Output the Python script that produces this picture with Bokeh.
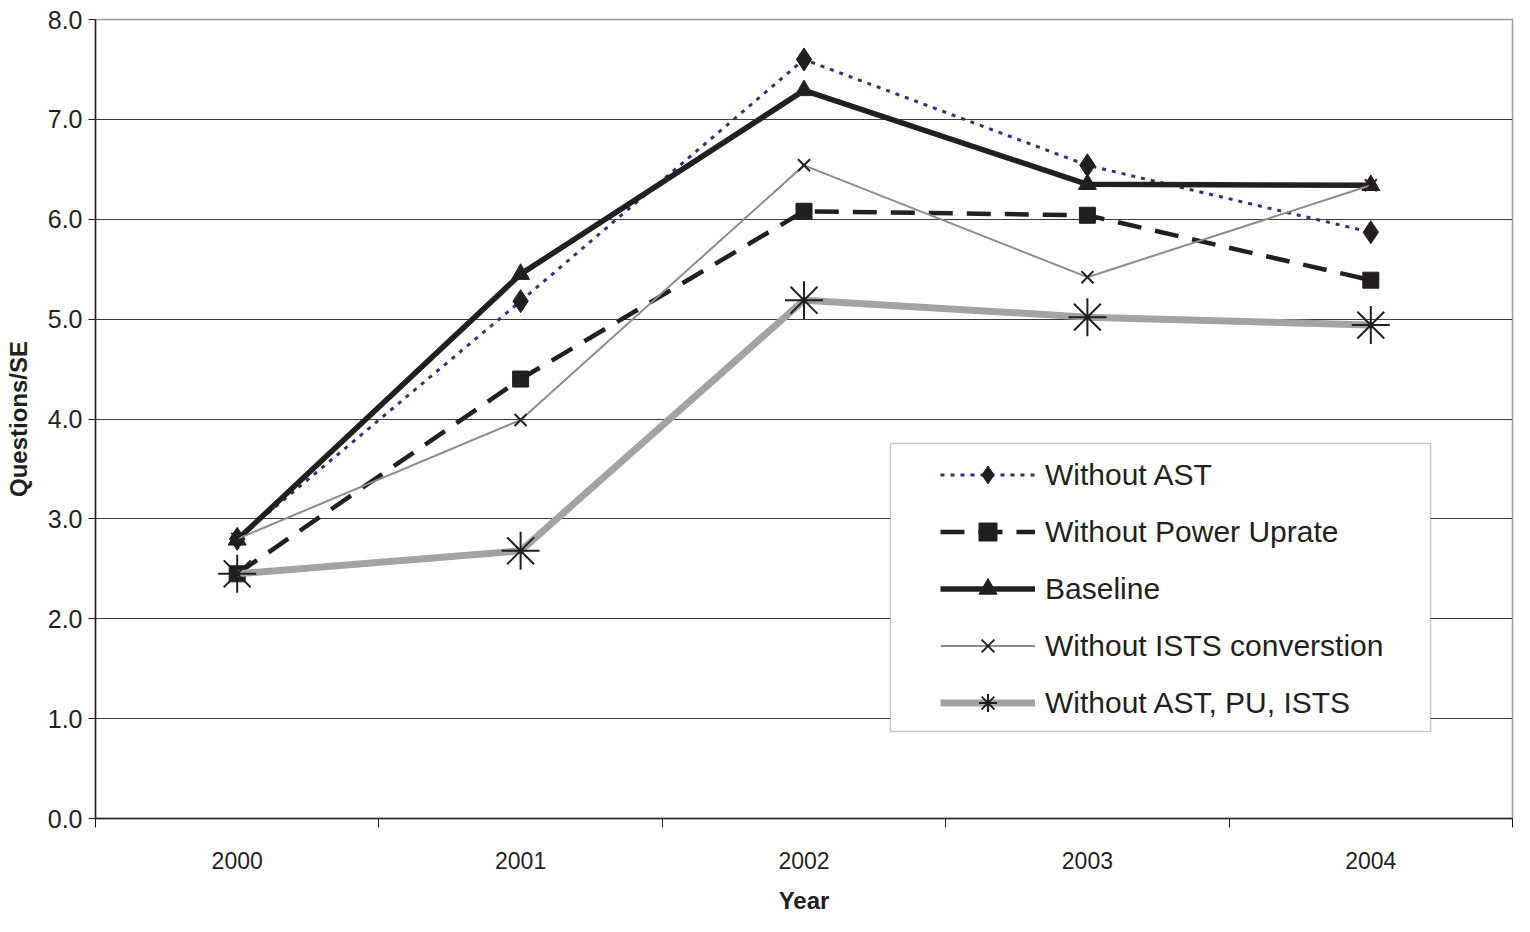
from bokeh.plotting import figure
from bokeh.models import (Range1d, FixedTicker, PrintfTickFormatter, Legend, LegendItem,
                          BoxAnnotation)
from bokeh.embed import file_html
from bokeh.resources import INLINE

years = ["2000", "2001", "2002", "2003", "2004"]
without_ast = [2.80, 5.18, 7.60, 6.54, 5.87]
without_pu = [2.45, 4.40, 6.08, 6.04, 5.39]
baseline = [2.79, 5.45, 7.29, 6.35, 6.34]
without_ists = [2.80, 3.99, 6.54, 5.42, 6.34]
without_all = [2.45, 2.68, 5.19, 5.02, 4.94]
y_ticks = [0, 1, 2, 3, 4, 5, 6, 7, 8]

xs = [i + 0.5 for i in range(len(years))]
DARK = "#231f20"
FONT = "Liberation Sans"

p = figure(width=1514, height=916, output_backend="svg", toolbar_location=None,
           x_range=Range1d(0, len(years)), y_range=Range1d(0, 8),
           min_border_left=95, min_border_right=2, min_border_top=19, min_border_bottom=98)
p.background_fill_color = "white"
p.border_fill_color = "white"
p.outline_line_color = "#a39c9c"
p.outline_line_width = 1.5

# axes
p.xaxis.ticker = FixedTicker(ticks=xs, minor_ticks=list(range(len(years) + 1)))
p.xaxis.major_label_overrides = {x: y for x, y in zip(xs, years)}
p.xaxis.major_tick_out = 0
p.xaxis.major_tick_in = 0
p.xaxis.minor_tick_out = 9
p.xaxis.minor_tick_in = 0
p.xaxis.minor_tick_line_color = DARK
p.xaxis.major_label_standoff = 24
p.xaxis.major_label_text_font = FONT
p.xaxis.major_label_text_font_size = "23px"
p.xaxis.major_label_text_color = DARK
p.xaxis.axis_label = "Year"
p.xaxis.axis_label_text_font = FONT
p.xaxis.axis_label_text_font_style = "bold"
p.xaxis.axis_label_text_font_size = "24px"
p.xaxis.axis_label_text_color = DARK
p.xaxis.axis_label_standoff = 15

p.yaxis.ticker = FixedTicker(ticks=y_ticks, minor_ticks=[])
p.yaxis.formatter = PrintfTickFormatter(format="%.1f")
p.yaxis.major_tick_out = 7
p.yaxis.major_tick_in = 0
p.yaxis.major_tick_line_color = DARK
p.yaxis.major_label_standoff = 6
p.yaxis.major_label_text_font = FONT
p.yaxis.major_label_text_font_size = "25px"
p.yaxis.major_label_text_color = DARK
p.yaxis.axis_label = "Questions/SE"
p.yaxis.axis_label_text_font = FONT
p.yaxis.axis_label_text_font_style = "bold"
p.yaxis.axis_label_text_font_size = "24px"
p.yaxis.axis_label_text_color = DARK
p.yaxis.axis_label_standoff = 13

for ax in (p.xaxis, p.yaxis):
    ax.axis_line_color = DARK
    ax.axis_line_width = 1.5

p.xgrid.visible = False
p.ygrid.grid_line_color = "#3c3c3c"
p.ygrid.grid_line_width = 1.2

# series
l1 = p.line(xs, without_ast, line_color="#332f7f", line_width=3, line_dash="4 6")
m1 = p.scatter(xs, without_ast, marker="diamond", size=23, fill_color=DARK, line_color=DARK)

l2 = p.line(xs, without_pu, line_color=DARK, line_width=4.5, line_dash="24 14")
m2 = p.scatter(xs, without_pu, marker="square", size=16, fill_color=DARK, line_color=DARK)

l3 = p.line(xs, baseline, line_color=DARK, line_width=5.5)
m3 = p.scatter(xs, baseline, marker="triangle", size=18, fill_color=DARK, line_color=DARK)

l4 = p.line(xs, without_ists, line_color="#8c8c8c", line_width=2)
m4 = p.scatter(xs, without_ists, marker="x", size=17, line_color=DARK, line_width=2)

l5 = p.line(xs, without_all, line_color="#a3a3a3", line_width=7)
m5 = p.scatter(xs, without_all, marker="asterisk", size=38, line_color=DARK, line_width=2)

# legend frame
box = BoxAnnotation(left=2.805, right=4.711, bottom=0.871, top=3.755,
                    fill_color="white", fill_alpha=1.0,
                    line_color="#4a4a4a", line_width=1.5, level="annotation")
p.add_layout(box)

legend = Legend(items=[
    LegendItem(label="Without AST", renderers=[l1, m1]),
    LegendItem(label="Without Power Uprate", renderers=[l2, m2]),
    LegendItem(label="Baseline", renderers=[l3, m3]),
    LegendItem(label="Without ISTS converstion", renderers=[l4, m4]),
    LegendItem(label="Without AST, PU, ISTS", renderers=[l5, m5]),
], location=(841, 89))
legend.padding = 4
legend.margin = 0
legend.spacing = 12
legend.glyph_width = 95
legend.glyph_height = 45
legend.label_height = 45
legend.label_standoff = 10
legend.label_text_font = FONT
legend.label_text_font_size = "30px"
legend.label_text_color = DARK
legend.border_line_alpha = 0
legend.background_fill_alpha = 0
p.add_layout(legend)

open("out.html", "w").write(file_html(p, INLINE))
